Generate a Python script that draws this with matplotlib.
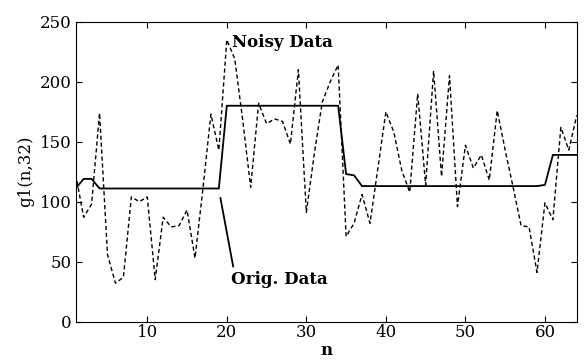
import matplotlib
matplotlib.use('Agg')
import matplotlib.pyplot as plt

n = list(range(1, 65))

# original (smooth) signal
orig = [111, 119, 119, 111, 111, 111, 111, 111, 111, 111,
        111, 111, 111, 111, 111, 111, 111, 111, 111, 180,
        180, 180, 180, 180, 180, 180, 180, 180, 180, 180,
        180, 180, 180, 180, 123, 122, 113, 113, 113, 113,
        113, 113, 113, 113, 113, 113, 113, 113, 113, 113,
        113, 113, 113, 113, 113, 113, 113, 113, 113, 114,
        139, 139, 139, 139]

# noisy version
noisy = [123, 87, 98, 174, 56, 32, 37, 104, 100, 104,
         35, 87, 79, 80, 93, 53, 111, 173, 143, 235,
         219, 168, 112, 182, 165, 169, 167, 148, 210, 91,
         140, 183, 200, 214, 71, 82, 106, 82, 128, 175,
         158, 126, 108, 190, 114, 209, 121, 205, 96, 147,
         128, 139, 118, 176, 143, 112, 80, 79, 41, 99,
         85, 162, 143, 172]

plt.rcParams['font.family'] = 'DejaVu Serif'

fig = plt.figure(figsize=(5.84, 3.63), dpi=100)
ax = fig.add_axes([0.1296, 0.114, 0.858, 0.826])

ax.plot(n, orig, color='black', linewidth=1.3)
ax.plot(n, noisy, color='black', linewidth=1.0, linestyle=(0, (3, 2)))

ax.set_xlim(1, 64)
ax.set_ylim(0, 250)
ax.set_xticks([10, 20, 30, 40, 50, 60])
ax.set_yticks([0, 50, 100, 150, 200, 250])
ax.tick_params(direction='in', top=True, right=True, labelsize=12, length=4)
ax.tick_params(axis='x', pad=1.5)
ax.tick_params(axis='y', pad=3)

ax.set_xlabel('n', fontsize=12, fontweight='bold', labelpad=1)
ax.set_ylabel('g1(n,32)', fontsize=12, labelpad=4)

ax.text(20.7, 233, 'Noisy Data', fontsize=12, fontweight='bold', va='center', ha='left')
ax.text(20.5, 35.5, 'Orig. Data', fontsize=12, fontweight='bold', va='center', ha='left')
ax.plot([19.2, 20.8], [103, 46], color='black', linewidth=1.3)

plt.savefig('out.png', dpi=100)
plt.close()
